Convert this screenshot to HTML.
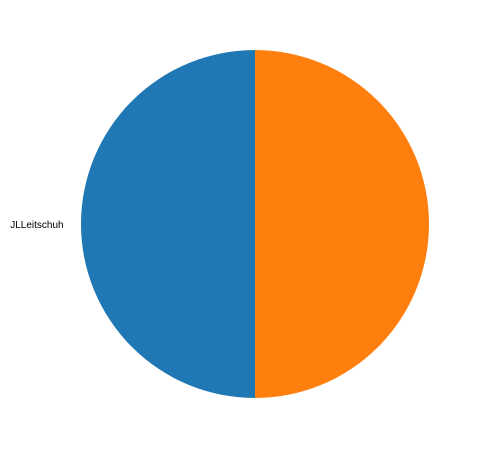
<!DOCTYPE html>
<html><head><meta charset="utf-8">
<style>body{margin:0;background:#fff}svg{display:block}</style></head>
<body>
<svg id="chart" width="479" height="449" xmlns="http://www.w3.org/2000/svg"></svg>
<script>
const labels = ["JLLeitschuh", ""];
const values = [1, 1];
const colors = ["#1f77b4", "#ff7f0e"];
const svg = document.getElementById('chart');
const cx = 255, cy = 224, r = 174;
const total = values.reduce((a,b)=>a+b,0);
let ang = 90;
values.forEach((v,i)=>{
  const a0 = ang, a1 = ang + v/total*360;
  const rad = d => d*Math.PI/180;
  const x0 = cx + r*Math.cos(rad(a0)), y0 = cy - r*Math.sin(rad(a0));
  const x1 = cx + r*Math.cos(rad(a1)), y1 = cy - r*Math.sin(rad(a1));
  const large = (a1-a0) > 180 ? 1 : 0;
  const p = document.createElementNS('http://www.w3.org/2000/svg','path');
  p.setAttribute('d', `M${cx},${cy} L${x0},${y0} A${r},${r} 0 ${large} 0 ${x1},${y1} Z`);
  p.setAttribute('fill', colors[i]);
  
  
  svg.appendChild(p);
  if (labels[i]) {
    const mid = rad((a0+a1)/2);
    const lx = cx + r*1.1*Math.cos(mid), ly = cy - r*1.1*Math.sin(mid);
    const t = document.createElementNS('http://www.w3.org/2000/svg','text');
    t.setAttribute('x', lx);
    t.setAttribute('y', ly + 4);
    t.setAttribute('text-anchor', Math.cos(mid) < 0 ? 'end' : 'start');
    t.setAttribute('font-family', 'Liberation Sans, DejaVu Sans, sans-serif');
    t.setAttribute('font-size', '10');
    t.setAttribute('fill', '#000');
    t.textContent = labels[i];
    
    
    svg.appendChild(t);
  }
  ang = a1;
});
</script>
</body></html>
